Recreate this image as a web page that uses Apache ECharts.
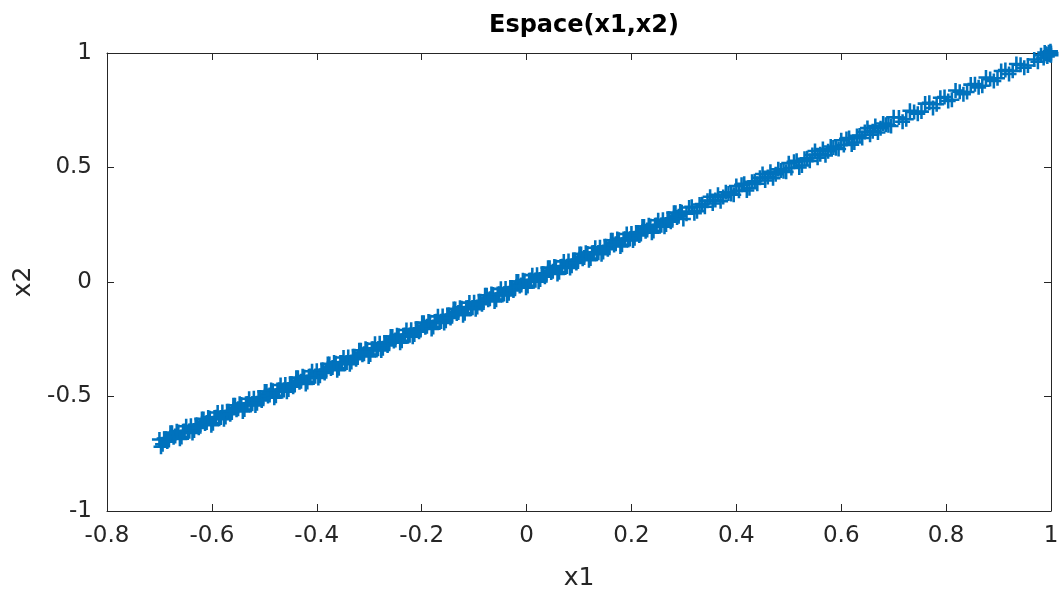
<!DOCTYPE html>
<html>
<head>
<meta charset="utf-8">
<script src="https://cdn.jsdelivr.net/npm/echarts@6/dist/echarts.min.js"></script>
<style>
  html, body { margin: 0; padding: 0; background: #fff; }
  #chart { width: 1060px; height: 590px; }
</style>
</head>
<body>
<div id="chart"></div>
<script>
// x1 / x2 pairs along the diagonal
// dense lower part of the band (two passes)
const lowX1 = [
  -0.700, -0.694, -0.688, -0.682, -0.676, -0.670, -0.664, -0.658, -0.652, -0.646,
  -0.640, -0.634, -0.628, -0.622, -0.616, -0.610, -0.604, -0.598, -0.592, -0.586,
  -0.580, -0.574, -0.568, -0.562, -0.556, -0.550, -0.544, -0.538, -0.532, -0.526,
  -0.520, -0.514, -0.508, -0.502, -0.496, -0.490, -0.484, -0.478, -0.472, -0.466,
  -0.460, -0.454, -0.448, -0.442, -0.436, -0.430, -0.424, -0.418, -0.412, -0.406,
  -0.400, -0.394, -0.388, -0.382, -0.376, -0.370, -0.364, -0.358, -0.352, -0.346,
  -0.340, -0.334, -0.328, -0.322, -0.316, -0.310, -0.304, -0.298, -0.292, -0.286,
  -0.280, -0.274, -0.268, -0.262, -0.256, -0.250, -0.244, -0.238, -0.232, -0.226,
  -0.220, -0.214, -0.208, -0.202, -0.196, -0.190, -0.184, -0.178, -0.172, -0.166,
  -0.160, -0.154, -0.148, -0.142, -0.136, -0.130, -0.124, -0.118, -0.112, -0.106,
  -0.100, -0.094, -0.088, -0.082, -0.076, -0.070, -0.064, -0.058, -0.052, -0.046,
  -0.040, -0.034, -0.028, -0.022, -0.016, -0.010, -0.004, 0.002, 0.008, 0.014,
  0.020, 0.026, 0.032, 0.038, 0.044, 0.050, 0.056, 0.062, 0.068, 0.074,
  0.080, 0.086, 0.092, 0.098, 0.104, 0.110, 0.116, 0.122, 0.128, 0.134,
  0.140, 0.146, 0.152, 0.158, 0.164, 0.170, 0.176, 0.182, 0.188, 0.194,
  0.200, 0.206, 0.212, 0.218, 0.224, 0.230, 0.236, 0.242, 0.248, 0.254,
  0.260, 0.266, 0.272, 0.278, 0.284, 0.290, 0.296
];
const lowX2 = [
  -0.688, -0.709, -0.684, -0.690, -0.658, -0.673, -0.655, -0.677, -0.651, -0.657,
  -0.628, -0.649, -0.624, -0.630, -0.598, -0.613, -0.595, -0.617, -0.591, -0.597,
  -0.568, -0.589, -0.564, -0.570, -0.538, -0.553, -0.535, -0.557, -0.531, -0.537,
  -0.508, -0.529, -0.504, -0.510, -0.478, -0.493, -0.475, -0.497, -0.471, -0.477,
  -0.448, -0.469, -0.444, -0.450, -0.418, -0.433, -0.415, -0.437, -0.411, -0.417,
  -0.388, -0.409, -0.384, -0.390, -0.358, -0.373, -0.355, -0.377, -0.351, -0.357,
  -0.328, -0.349, -0.324, -0.330, -0.298, -0.313, -0.295, -0.317, -0.291, -0.297,
  -0.268, -0.289, -0.264, -0.270, -0.238, -0.253, -0.235, -0.257, -0.231, -0.237,
  -0.208, -0.229, -0.204, -0.210, -0.178, -0.193, -0.175, -0.197, -0.171, -0.177,
  -0.148, -0.169, -0.144, -0.150, -0.118, -0.133, -0.115, -0.137, -0.111, -0.117,
  -0.088, -0.109, -0.084, -0.090, -0.058, -0.073, -0.055, -0.077, -0.051, -0.057,
  -0.028, -0.049, -0.024, -0.030, 0.002, -0.013, 0.005, -0.017, 0.009, 0.003,
  0.032, 0.011, 0.036, 0.030, 0.062, 0.047, 0.065, 0.043, 0.069, 0.063,
  0.092, 0.071, 0.096, 0.090, 0.122, 0.107, 0.125, 0.103, 0.129, 0.123,
  0.152, 0.131, 0.156, 0.150, 0.182, 0.167, 0.185, 0.163, 0.189, 0.183,
  0.212, 0.191, 0.216, 0.210, 0.242, 0.227, 0.245, 0.223, 0.249, 0.243,
  0.272, 0.251, 0.276, 0.270, 0.302, 0.287, 0.305
];
const lowX1b = [
  -0.697, -0.691, -0.685, -0.679, -0.673, -0.667, -0.661, -0.655, -0.649, -0.643,
  -0.637, -0.631, -0.625, -0.619, -0.613, -0.607, -0.601, -0.595, -0.589, -0.583,
  -0.577, -0.571, -0.565, -0.559, -0.553, -0.547, -0.541, -0.535, -0.529, -0.523,
  -0.517, -0.511, -0.505, -0.499, -0.493, -0.487, -0.481, -0.475, -0.469, -0.463,
  -0.457, -0.451, -0.445, -0.439, -0.433, -0.427, -0.421, -0.415, -0.409, -0.403,
  -0.397, -0.391, -0.385, -0.379, -0.373, -0.367, -0.361, -0.355, -0.349, -0.343,
  -0.337, -0.331, -0.325, -0.319, -0.313, -0.307, -0.301, -0.295, -0.289, -0.283,
  -0.277, -0.271, -0.265, -0.259, -0.253, -0.247, -0.241, -0.235, -0.229, -0.223,
  -0.217, -0.211, -0.205, -0.199, -0.193, -0.187, -0.181, -0.175, -0.169, -0.163,
  -0.157, -0.151, -0.145, -0.139, -0.133, -0.127, -0.121, -0.115, -0.109, -0.103,
  -0.097, -0.091, -0.085, -0.079, -0.073, -0.067, -0.061, -0.055, -0.049, -0.043,
  -0.037, -0.031, -0.025, -0.019, -0.013, -0.007, -0.001, 0.005, 0.011, 0.017,
  0.023, 0.029, 0.035, 0.041, 0.047, 0.053, 0.059, 0.065, 0.071, 0.077,
  0.083, 0.089, 0.095, 0.101, 0.107, 0.113, 0.119, 0.125, 0.131, 0.137,
  0.143, 0.149, 0.155, 0.161, 0.167, 0.173, 0.179, 0.185, 0.191, 0.197,
  0.203, 0.209, 0.215, 0.221, 0.227, 0.233, 0.239, 0.245, 0.251, 0.257,
  0.263, 0.269, 0.275, 0.281, 0.287, 0.293, 0.299
];
const lowX2b = [
  -0.719, -0.684, -0.697, -0.658, -0.678, -0.652, -0.685, -0.652, -0.630, -0.652,
  -0.659, -0.624, -0.637, -0.598, -0.618, -0.592, -0.625, -0.592, -0.570, -0.592,
  -0.599, -0.564, -0.577, -0.538, -0.558, -0.532, -0.565, -0.532, -0.510, -0.532,
  -0.539, -0.504, -0.517, -0.478, -0.498, -0.472, -0.505, -0.472, -0.450, -0.472,
  -0.479, -0.444, -0.457, -0.418, -0.438, -0.412, -0.445, -0.412, -0.390, -0.412,
  -0.419, -0.384, -0.397, -0.358, -0.378, -0.352, -0.385, -0.352, -0.330, -0.352,
  -0.359, -0.324, -0.337, -0.298, -0.318, -0.292, -0.325, -0.292, -0.270, -0.292,
  -0.299, -0.264, -0.277, -0.238, -0.258, -0.232, -0.265, -0.232, -0.210, -0.232,
  -0.239, -0.204, -0.217, -0.178, -0.198, -0.172, -0.205, -0.172, -0.150, -0.172,
  -0.179, -0.144, -0.157, -0.118, -0.138, -0.112, -0.145, -0.112, -0.090, -0.112,
  -0.119, -0.084, -0.097, -0.058, -0.078, -0.052, -0.085, -0.052, -0.030, -0.052,
  -0.059, -0.024, -0.037, 0.002, -0.018, 0.008, -0.025, 0.008, 0.030, 0.008,
  0.001, 0.036, 0.023, 0.062, 0.042, 0.068, 0.035, 0.068, 0.090, 0.068,
  0.061, 0.096, 0.083, 0.122, 0.102, 0.128, 0.095, 0.128, 0.150, 0.128,
  0.121, 0.156, 0.143, 0.182, 0.162, 0.188, 0.155, 0.188, 0.210, 0.188,
  0.181, 0.216, 0.203, 0.242, 0.222, 0.248, 0.215, 0.248, 0.270, 0.248,
  0.241, 0.276, 0.263, 0.302, 0.282, 0.308, 0.275
];
// middle part (two passes)
const midX1 = [
  0.305, 0.315, 0.325, 0.335, 0.345, 0.355, 0.365, 0.375, 0.385, 0.395,
  0.405, 0.415, 0.425, 0.435, 0.445, 0.455, 0.465, 0.475, 0.485, 0.495,
  0.505, 0.515, 0.525, 0.535, 0.545, 0.555, 0.565, 0.575, 0.585, 0.595,
  0.605, 0.615, 0.625, 0.635, 0.645, 0.655, 0.665, 0.675, 0.685, 0.695
];
const midX2 = [
  0.298, 0.329, 0.309, 0.340, 0.355, 0.343, 0.381, 0.371, 0.387, 0.381,
  0.398, 0.429, 0.409, 0.440, 0.455, 0.443, 0.481, 0.471, 0.487, 0.481,
  0.498, 0.529, 0.509, 0.540, 0.555, 0.543, 0.581, 0.571, 0.587, 0.581,
  0.598, 0.629, 0.609, 0.640, 0.655, 0.643, 0.681, 0.671, 0.687, 0.681
];
const midX1b = [
  0.310, 0.320, 0.330, 0.340, 0.350, 0.360, 0.370, 0.380, 0.390, 0.400,
  0.410, 0.420, 0.430, 0.440, 0.450, 0.460, 0.470, 0.480, 0.490, 0.500,
  0.510, 0.520, 0.530, 0.540, 0.550, 0.560, 0.570, 0.580, 0.590, 0.600,
  0.610, 0.620, 0.630, 0.640, 0.650, 0.660, 0.670, 0.680, 0.690, 0.700
];
const midX2b = [
  0.325, 0.300, 0.338, 0.329, 0.372, 0.358, 0.353, 0.392, 0.384, 0.419,
  0.425, 0.400, 0.438, 0.429, 0.472, 0.458, 0.453, 0.492, 0.484, 0.519,
  0.525, 0.500, 0.538, 0.529, 0.572, 0.558, 0.553, 0.592, 0.584, 0.619,
  0.625, 0.600, 0.638, 0.629, 0.672, 0.658, 0.653, 0.692, 0.684, 0.719
];
// sparser upper part and the cluster at (1, 1)
const highX1 = [
  0.710, 0.724, 0.739, 0.753, 0.768, 0.782, 0.797, 0.811, 0.826, 0.840,
  0.855, 0.869, 0.884, 0.898, 0.913, 0.927, 0.942, 0.956, 0.968, 0.975,
  0.981, 0.986, 0.990, 0.993, 0.996, 0.998, 1.000, 0.999, 0.995, 1.000, 0.988
];
const highX2 = [
  0.718, 0.711, 0.742, 0.744, 0.783, 0.776, 0.808, 0.796, 0.831, 0.830,
  0.864, 0.857, 0.886, 0.890, 0.926, 0.922, 0.949, 0.945, 0.972, 0.962,
  0.990, 0.978, 0.997, 0.985, 1.003, 0.992, 1.000, 1.008, 0.995, 0.990, 1.002
];
const highX1b = [
  0.717, 0.731, 0.746, 0.760, 0.775, 0.789, 0.804, 0.818, 0.833,
  0.847, 0.862, 0.876, 0.891, 0.905, 0.920, 0.934, 0.949
];
const highX2b = [
  0.700, 0.748, 0.735, 0.779, 0.760, 0.805, 0.790, 0.836, 0.820,
  0.862, 0.850, 0.893, 0.878, 0.921, 0.908, 0.952, 0.936
];

const x1 = lowX1.concat(lowX1b, midX1, midX1b, highX1, highX1b);
const x2 = lowX2.concat(lowX2b, midX2, midX2b, highX2, highX2b);
const points = x1.map((v, i) => [v, x2[i]]);

const ink = '#262626';
const font = 'DejaVu Sans';
const plus = 'path://M0,4.15H4.15V0H5.85V4.15H10V5.85H5.85V10H4.15V5.85H0Z';

const chart = echarts.init(document.getElementById('chart'), null, { renderer: 'canvas' });

const boxAxis = (extra) => Object.assign({
  type: 'value',
  axisLine: { show: true, onZero: false, lineStyle: { color: ink, width: 1 } },
  axisTick: { show: true, inside: true, length: 7, lineStyle: { color: ink } },
  splitLine: { show: false },
}, extra);

chart.setOption({
  animation: false,
  backgroundColor: '#fff',
  title: {
    text: 'Espace(x1,x2)',
    left: 579, top: 9, textAlign: 'center',
    textStyle: { fontFamily: font, fontSize: 24, fontWeight: 'bold', color: '#000' },
  },
  grid: { left: 107, right: 9, top: 53, bottom: 79, outerBoundsMode: 'none', containLabel: false },
  xAxis: [
    boxAxis({
      min: -0.8, max: 1, interval: 0.2, position: 'bottom',
      name: 'x1', nameLocation: 'middle', nameGap: 55,
      nameTextStyle: { fontFamily: font, fontSize: 25, color: ink },
      axisLabel: { margin: 14, fontFamily: font, fontSize: 23, color: ink },
    }),
    boxAxis({
      min: -0.8, max: 1, interval: 0.2, position: 'top',
      axisLabel: { show: false },
    }),
  ],
  yAxis: [
    boxAxis({
      min: -1, max: 1, interval: 0.5, position: 'left',
      name: 'x2', nameLocation: 'middle', nameGap: 70,
      nameTextStyle: { fontFamily: font, fontSize: 25, color: ink },
      axisLabel: { margin: 15, fontFamily: font, fontSize: 23, color: ink },
    }),
    boxAxis({
      min: -1, max: 1, interval: 0.5, position: 'right',
      axisLabel: { show: false },
    }),
  ],
  series: [{
    type: 'scatter',
    xAxisIndex: 0, yAxisIndex: 0,
    symbol: plus,
    symbolSize: 15,
    clip: false,
    itemStyle: { color: '#0072BD', opacity: 1 },
    data: points,
  }],
});
</script>
</body>
</html>
